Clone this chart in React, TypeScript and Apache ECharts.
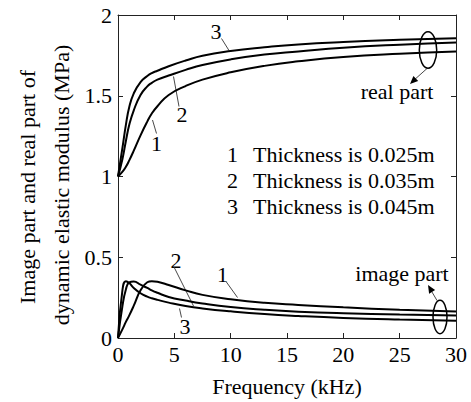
import React, { useEffect, useRef } from "react";
import * as echarts from "echarts";

const freq = [0, 0.4, 0.7, 1, 1.4, 2, 2.6, 3, 3.5, 4.5, 6, 7.5, 10, 13, 16, 20, 25, 30];

const real1 = [1, 1.03, 1.06, 1.1, 1.16, 1.255, 1.34, 1.39, 1.435, 1.505, 1.56, 1.6, 1.645, 1.685, 1.713, 1.74, 1.76, 1.774];
const real2 = [1, 1.11, 1.22, 1.32, 1.41, 1.505, 1.558, 1.58, 1.6, 1.625, 1.66, 1.69, 1.725, 1.755, 1.774, 1.797, 1.816, 1.83];
const real3 = [1, 1.18, 1.32, 1.43, 1.515, 1.585, 1.622, 1.64, 1.655, 1.683, 1.718, 1.748, 1.777, 1.8, 1.818, 1.833, 1.846, 1.856];

const imag1 = [0, 0.055, 0.1, 0.14, 0.2, 0.295, 0.345, 0.352, 0.348, 0.328, 0.295, 0.267, 0.24, 0.218, 0.205, 0.19, 0.175, 0.164];
const imag2 = [0, 0.2, 0.3, 0.345, 0.35, 0.33, 0.31, 0.295, 0.28, 0.254, 0.232, 0.214, 0.192, 0.175, 0.163, 0.153, 0.145, 0.14];
const imag3 = [0, 0.3, 0.352, 0.34, 0.31, 0.277, 0.256, 0.246, 0.236, 0.219, 0.198, 0.183, 0.165, 0.148, 0.136, 0.124, 0.114, 0.107];

const legendNums = ["1", "2", "3"];
const legendTexts = ["Thickness is 0.025m", "Thickness is 0.035m", "Thickness is 0.045m"];

const FONT = "Times New Roman";

function pairs(vals: number[]) {
  return freq.map((f, i) => [f, vals[i]]);
}

export default function App() {
  const ref = useRef<HTMLDivElement>(null);
  useEffect(() => {
    document.body.style.margin = "0";
    const chart = echarts.init(ref.current!, null, { renderer: "svg" });
    const lineSeries = (name: string, vals: number[]) => ({
      name,
      type: "line",
      data: pairs(vals),
      showSymbol: false,
      symbol: "none",
      smooth: true,
      lineStyle: { color: "#000", width: 2 },
      z: 3,
    });
    const txt = (x: number, y: number, text: string, extra: any = {}) => ({
      type: "text",
      x,
      y,
      style: {
        text,
        fill: "#000",
        fontFamily: FONT,
        fontSize: 22,
        align: "center",
        verticalAlign: "middle",
        ...extra,
      },
    });
    const leader = (x1: number, y1: number, x2: number, y2: number) => ({
      type: "line",
      shape: { x1, y1, x2, y2 },
      style: { stroke: "#333", lineWidth: 0.9 },
    });
    const legendRows = [154, 180, 206];
    const graphic: any[] = [
      {
        type: "text",
        x: 27,
        y: 187,
        rotation: Math.PI / 2,
        style: { text: "Image part and real part of", fill: "#000", fontFamily: FONT, fontSize: 22, align: "center", verticalAlign: "middle" },
      },
      {
        type: "text",
        x: 61,
        y: 185,
        rotation: Math.PI / 2,
        style: { text: "dynamic elastic modulus (MPa)", fill: "#000", fontFamily: FONT, fontSize: 22, align: "center", verticalAlign: "middle" },
      },
      txt(216, 31, "3"),
      leader(221.5, 38.5, 229, 50.5),
      txt(182, 114, "2"),
      leader(179, 106.5, 173.5, 76.5),
      txt(156.5, 143, "1"),
      leader(156.5, 133.5, 152.5, 120),
      txt(176, 260, "2"),
      leader(174, 267, 193.5, 306),
      txt(222.5, 274, "1"),
      leader(226, 281.5, 237.5, 297.5),
      txt(185, 326, "3"),
      leader(179.5, 308.5, 181.5, 317.5),
      { type: "ellipse", shape: { cx: 428, cy: 50, rx: 8.7, ry: 18.3 }, style: { fill: "none", stroke: "#000", lineWidth: 1.5 } },
      leader(427, 68.5, 413, 81),
      { type: "polygon", shape: { points: [[410, 84], [418.2, 81.1], [413.4, 76]] }, style: { fill: "#000" } },
      txt(397, 91, "real part"),
      { type: "ellipse", shape: { cx: 440, cy: 317, rx: 7, ry: 16.7 }, style: { fill: "none", stroke: "#000", lineWidth: 1.5 } },
      leader(437, 300.5, 430.5, 289.5),
      { type: "polygon", shape: { points: [[428, 285], [435.1, 290.1], [429.1, 293.7]] }, style: { fill: "#000" } },
      txt(402, 273, "image part"),
    ];
    legendRows.forEach((y, i) => {
      graphic.push(txt(232.5, y, legendNums[i]));
      graphic.push(txt(253, y, legendTexts[i], { align: "left" }));
    });

    const axisCommon = {
      type: "value",
      axisLine: { show: true, onZero: false, lineStyle: { color: "#222", width: 1 } },
      axisTick: { show: true, inside: true, length: 5, lineStyle: { color: "#222" } },
      splitLine: { show: false },
    };
    const labelStyle = { color: "#000", fontFamily: FONT, fontSize: 22 };

    chart.setOption({
      animation: false,
      backgroundColor: "#fff",
      textStyle: { fontFamily: FONT },
      grid: { left: 118, right: 15, top: 15, bottom: 62, containLabel: false },
      xAxis: [
        {
          ...axisCommon,
          position: "bottom",
          min: 0,
          max: 30,
          interval: 5,
          axisLabel: { ...labelStyle, margin: 5 },
          name: "Frequency (kHz)",
          nameLocation: "middle",
          nameGap: 37,
          nameTextStyle: { ...labelStyle },
        },
        {
          ...axisCommon,
          position: "top",
          min: 0,
          max: 30,
          interval: 5,
          axisLabel: { show: false },
        },
      ],
      yAxis: [
        {
          ...axisCommon,
          position: "left",
          min: 0,
          max: 2,
          interval: 0.5,
          axisLabel: { ...labelStyle, margin: 6 },
        },
        {
          ...axisCommon,
          position: "right",
          min: 0,
          max: 2,
          interval: 0.5,
          axisLabel: { show: false },
        },
      ],
      series: [
        lineSeries("real 1", real1),
        lineSeries("real 2", real2),
        lineSeries("real 3", real3),
        lineSeries("image 1", imag1),
        lineSeries("image 2", imag2),
        lineSeries("image 3", imag3),
      ],
      graphic,
    });
    return () => chart.dispose();
  }, []);
  return <div ref={ref} style={{ width: 471, height: 402 }} />;
}
